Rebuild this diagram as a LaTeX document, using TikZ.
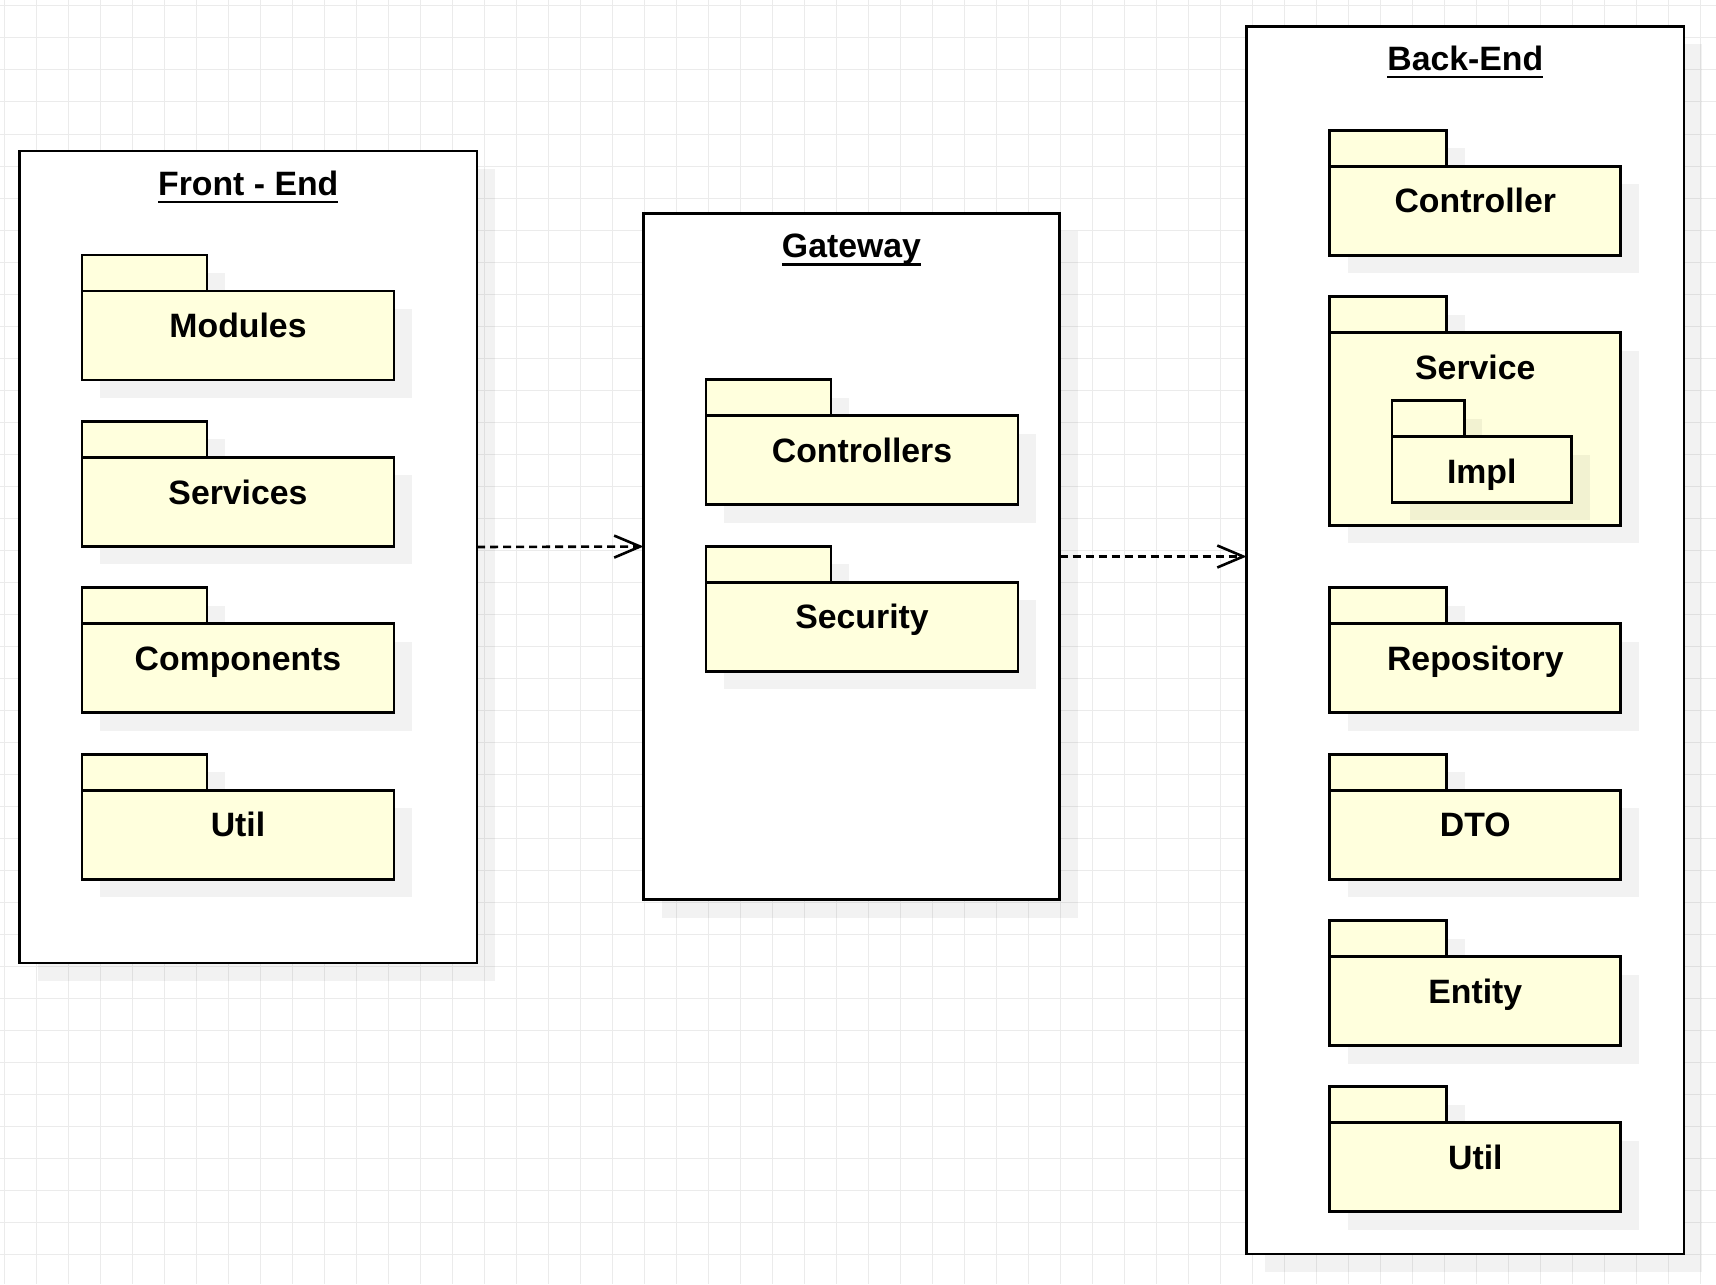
\documentclass[tikz,border=0pt]{standalone}
\usepackage{fontspec}
\setmainfont{Liberation Sans}
\usetikzlibrary{positioning,shadows,arrows.meta}
\definecolor{pkgfill}{HTML}{FFFFDD}
\definecolor{gridline}{HTML}{EBEBEB}
\newcommand{\ulname}[1]{\setbox0\hbox{#1}\rlap{\rule[-4.1pt]{\wd0}{1.2pt}}\box0}

\begin{document}
\begin{tikzpicture}[x=0.5pt, y=-0.5pt, line width=1.4pt,
	every node/.style={font=\bfseries\fontsize{16.9}{20}\selectfont, outer sep=0pt, inner sep=0pt},
	shade/.style={drop shadow={shadow xshift=9pt, shadow yshift=-9pt, opacity=0.05, fill=black}},
	title/.style={anchor=base, yshift=-22pt},
	pkglabel/.style={anchor=base, yshift=-23.3pt},
	container/.style={draw, fill=white, shade, label={[title]north:\ulname{#1}}},
	pkgtab/.style={draw, fill=pkgfill, shade, anchor=north west, minimum width=62.5pt, minimum height=18pt},
	pkgbody/.style={draw, fill=pkgfill, shade, minimum width=156pt, minimum height=44.5pt, label={[pkglabel]north:#1}},
	betab/.style={pkgtab, minimum width=58.5pt},
	bebody/.style={pkgbody=#1, minimum width=145.5pt},
	dep/.style={line width=1.3pt, dash pattern=on 4pt off 2.5pt, -{Straight Barb[length=13pt, width=11pt]}}]

	\useasboundingbox (0,0) rectangle (1716,1284);
	\foreach \gx in {0,...,53}
		\draw[gridline, line width=0.5pt] (4.3+32*\gx,0) -- (4.3+32*\gx,1284);
	\foreach \gy in {0,...,39}
		\draw[gridline, line width=0.5pt] (0,6+32*\gy) -- (1716,6+32*\gy);

	\node[container=Front - End, minimum width=228.75pt, minimum height=406pt] (FE) at (248.25,557) {};
	\node[container=Gateway, minimum width=208pt, minimum height=343.15pt] (GW) at (851.5,556.5) {};
	\node[container=Back-End, minimum width=218.7pt, minimum height=613.85pt] (BE) at (1465.3,640.1) {};

	\node[pkgtab] (modtab) at (82,255) {};
	\node[pkgbody=Modules, below right=0pt of modtab.south west] (mod) {};
	\node[pkgtab] (srvtab) at (82,421.4) {};
	\node[pkgbody=Services, below right=0pt of srvtab.south west] (srv) {};
	\node[pkgtab] (comptab) at (82,587.7) {};
	\node[pkgbody=Components, below right=0pt of comptab.south west] (comp) {};
	\node[pkgtab] (feutiltab) at (82,754.1) {};
	\node[pkgbody=Util, below right=0pt of feutiltab.south west] (feutil) {};

	\node[pkgtab] (ctrlstab) at (706,379.8) {};
	\node[pkgbody=Controllers, below right=0pt of ctrlstab.south west] (ctrls) {};
	\node[pkgtab] (sectab) at (706,546.2) {};
	\node[pkgbody=Security, below right=0pt of sectab.south west] (sec) {};

	\node[betab] (ctrltab) at (1329.8,130.2) {};
	\node[bebody=Controller, below right=0pt of ctrltab.south west] (ctrl) {};
	\node[betab] (servtab) at (1329.8,296.6) {};
	\node[bebody=Service, minimum height=96.35pt, below right=0pt of servtab.south west] (serv) {};
	\node[pkgtab, minimum width=36.1pt] (impltab) at (1392,400.6) {};
	\node[pkgbody=Impl, minimum width=89.75pt, minimum height=32.85pt, below right=0pt of impltab.south west] (impl) {};
	\node[betab] (repotab) at (1329.8,587.7) {};
	\node[bebody=Repository, below right=0pt of repotab.south west] (repo) {};
	\node[betab] (dtotab) at (1329.8,754.1) {};
	\node[bebody=DTO, below right=0pt of dtotab.south west] (dto) {};
	\node[betab] (enttab) at (1329.8,920.5) {};
	\node[bebody=Entity, below right=0pt of enttab.south west] (ent) {};
	\node[betab] (beutiltab) at (1329.8,1086.8) {};
	\node[bebody=Util, below right=0pt of beutiltab.south west] (beutil) {};

	\draw[dep] ([yshift=5pt]FE.east) -- ([yshift=5pt]GW.west);
	\draw[dep] (GW.east) -- (GW.east -| BE.west);

\end{tikzpicture}
\end{document}
